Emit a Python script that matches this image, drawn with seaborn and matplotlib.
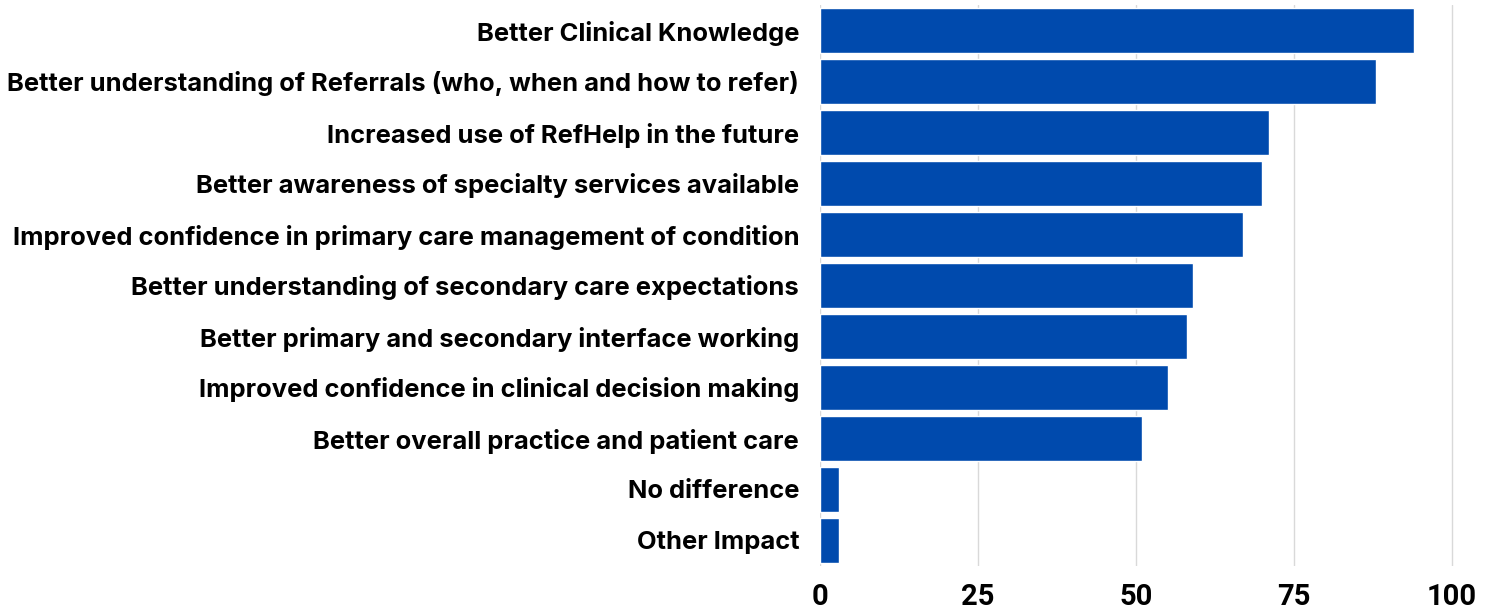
import matplotlib
matplotlib.use("Agg")
import matplotlib.pyplot as plt
import seaborn as sns
import pandas as pd

# Data
categories = [
    "Better Clinical Knowledge",
    "Better understanding of Referrals (who, when and how to refer)",
    "Increased use of RefHelp in the future",
    "Better awareness of specialty services available",
    "Improved confidence in primary care management of condition",
    "Better understanding of secondary care expectations",
    "Better primary and secondary interface working",
    "Improved confidence in clinical decision making",
    "Better overall practice and patient care",
    "No difference",
    "Other Impact",
]
values = [94, 88, 71, 70, 67, 59, 58, 55, 51, 3, 3]
x_ticks = [0, 25, 50, 75, 100]

df = pd.DataFrame({"category": categories, "value": values})

sns.set_style("white")
plt.rcParams["font.family"] = ["Inter", "DejaVu Sans"]

fig = plt.figure(figsize=(14.91, 6.09), dpi=100)
ax = fig.add_axes([820 / 1491, 43 / 609, 670 / 1491, 561 / 609])

sns.barplot(data=df, x="value", y="category", color="#004AAD",
            saturation=1, width=0.88, ax=ax, zorder=3)

ax.set_xlim(0, 106)
ax.set_xticks(x_ticks)
ax.grid(axis="x", color="#d9d9d9", linewidth=1, zorder=0)
ax.set_xlabel("")
ax.set_ylabel("")
for s in ax.spines.values():
    s.set_visible(False)
ax.tick_params(axis="both", length=0, colors="black")
ax.tick_params(axis="y", pad=15)
ax.tick_params(axis="x", pad=12)
for lbl in ax.get_yticklabels():
    lbl.set_fontsize(18.4)
    lbl.set_fontweight("bold")
    lbl.set_color("black")
for lbl in ax.get_xticklabels():
    lbl.set_fontsize(21)
    lbl.set_fontweight("bold")
    lbl.set_color("black")
    lbl.set_family(["Roboto", "DejaVu Sans"])

fig.savefig("out.png", dpi=100, facecolor="white")
